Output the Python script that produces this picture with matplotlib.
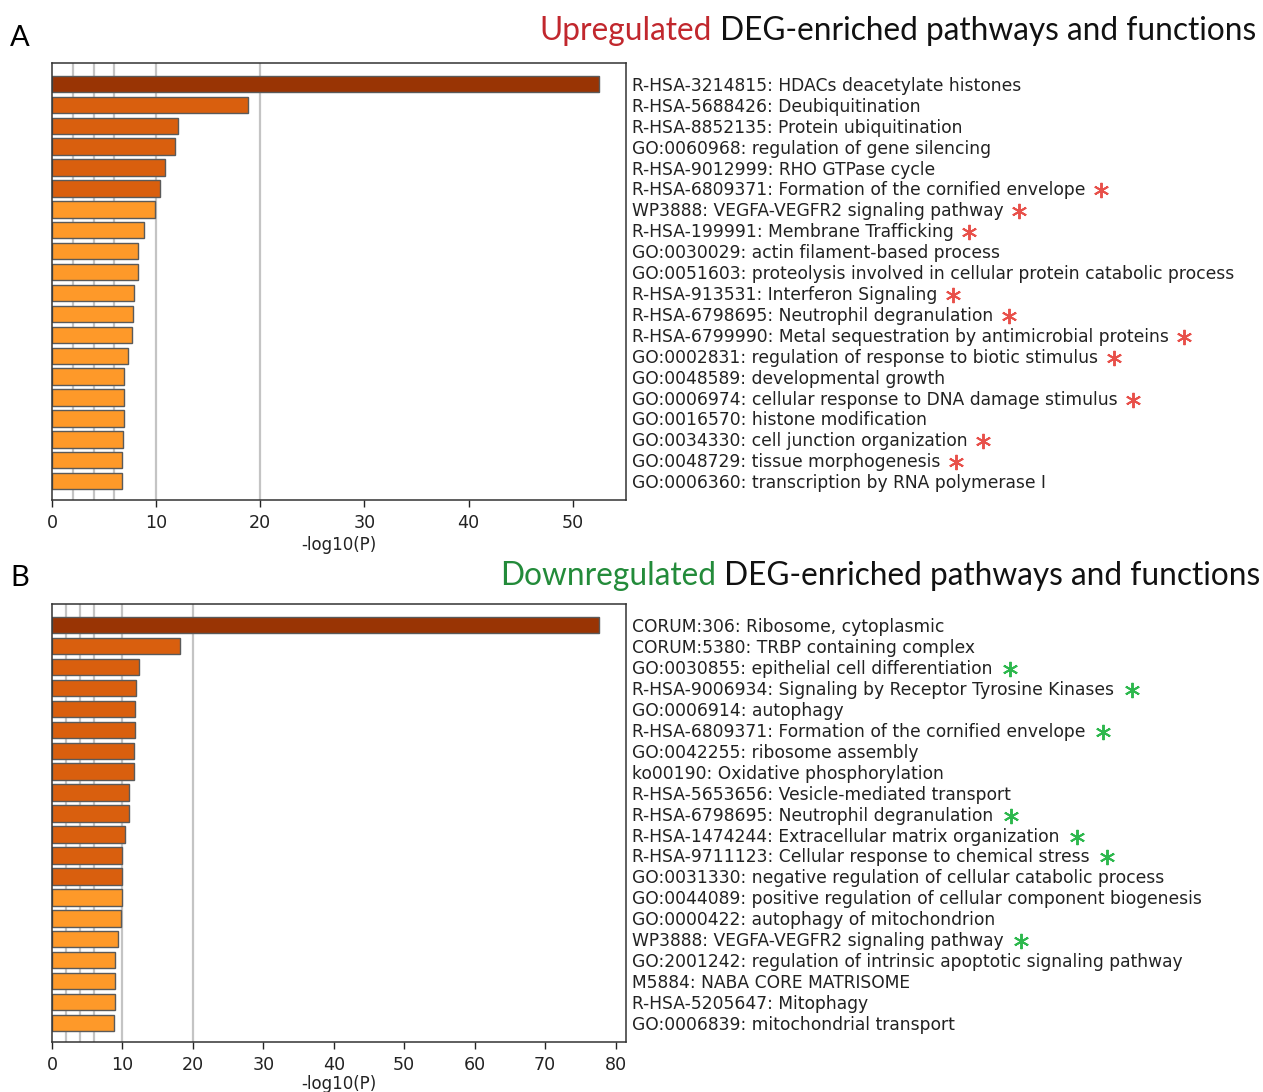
import matplotlib.pyplot as plt
import numpy as np

# -log10(P) of the top enriched terms, listed top to bottom
up_terms = [
    "R-HSA-3214815: HDACs deacetylate histones",
    "R-HSA-5688426: Deubiquitination",
    "R-HSA-8852135: Protein ubiquitination",
    "GO:0060968: regulation of gene silencing",
    "R-HSA-9012999: RHO GTPase cycle",
    "R-HSA-6809371: Formation of the cornified envelope",
    "WP3888: VEGFA-VEGFR2 signaling pathway",
    "R-HSA-199991: Membrane Trafficking",
    "GO:0030029: actin filament-based process",
    "GO:0051603: proteolysis involved in cellular protein catabolic process",
    "R-HSA-913531: Interferon Signaling",
    "R-HSA-6798695: Neutrophil degranulation",
    "R-HSA-6799990: Metal sequestration by antimicrobial proteins",
    "GO:0002831: regulation of response to biotic stimulus",
    "GO:0048589: developmental growth",
    "GO:0006974: cellular response to DNA damage stimulus",
    "GO:0016570: histone modification",
    "GO:0034330: cell junction organization",
    "GO:0048729: tissue morphogenesis",
    "GO:0006360: transcription by RNA polymerase I",
]
up_logp = [52.5, 18.8, 12.1, 11.8, 10.9, 10.35, 9.9, 8.8, 8.3, 8.24,
           7.9, 7.75, 7.66, 7.28, 6.96, 6.96, 6.93, 6.83, 6.7, 6.7]
up_level = [2, 1, 1, 1, 1, 1, 0, 0, 0, 0, 0, 0, 0, 0, 0, 0, 0, 0, 0, 0]
up_star = [0, 0, 0, 0, 0, 1, 1, 1, 0, 0, 1, 1, 1, 1, 0, 1, 0, 1, 1, 0]

down_terms = [
    "CORUM:306: Ribosome, cytoplasmic",
    "CORUM:5380: TRBP containing complex",
    "GO:0030855: epithelial cell differentiation",
    "R-HSA-9006934: Signaling by Receptor Tyrosine Kinases",
    "GO:0006914: autophagy",
    "R-HSA-6809371: Formation of the cornified envelope",
    "GO:0042255: ribosome assembly",
    "ko00190: Oxidative phosphorylation",
    "R-HSA-5653656: Vesicle-mediated transport",
    "R-HSA-6798695: Neutrophil degranulation",
    "R-HSA-1474244: Extracellular matrix organization",
    "R-HSA-9711123: Cellular response to chemical stress",
    "GO:0031330: negative regulation of cellular catabolic process",
    "GO:0044089: positive regulation of cellular component biogenesis",
    "GO:0000422: autophagy of mitochondrion",
    "WP3888: VEGFA-VEGFR2 signaling pathway",
    "GO:2001242: regulation of intrinsic apoptotic signaling pathway",
    "M5884: NABA CORE MATRISOME",
    "R-HSA-5205647: Mitophagy",
    "GO:0006839: mitochondrial transport",
]
down_logp = [77.6, 18.1, 12.3, 11.9, 11.8, 11.8, 11.6, 11.6, 10.9, 10.9,
             10.35, 10.0, 10.0, 10.0, 9.8, 9.3, 9.0, 9.0, 9.0, 8.8]
down_level = [2, 1, 1, 1, 1, 1, 1, 1, 1, 1, 1, 1, 1, 0, 0, 0, 0, 0, 0, 0]
down_star = [0, 0, 1, 1, 0, 1, 0, 0, 0, 1, 1, 1, 0, 0, 0, 1, 0, 0, 0, 0]

bar_colors = ["#fe9929", "#d95f0e", "#993404"]
grid_x = [2, 4, 6, 10, 20]

W, H = 1263, 1092
fig = plt.figure(figsize=(W / 100, H / 100), dpi=100)


def draw_panel(rect, terms, logp, level, star, star_color, star_gap, xpad):
    ax = fig.add_axes(rect)
    n = len(terms)
    ypos = np.arange(n)
    for g in grid_x:
        ax.axvline(g, color="#c4c4c4", lw=1.6, zorder=0)
    ax.barh(ypos, logp, height=0.78, color=[bar_colors[l] for l in level],
            edgecolor="#5a5a5a", linewidth=1.0, zorder=2)
    ax.set_xlim(0, max(logp) * 1.05)
    ax.set_ylim(n - 0.1, -1.0)
    ax.yaxis.tick_right()
    ax.set_yticks(ypos)
    ax.set_yticklabels(terms, fontsize=12.3, color="#222222")
    ax.tick_params(axis="y", length=0, pad=4)
    ax.tick_params(axis="x", labelsize=12.6, length=5, width=1, pad=5,
                   colors="#222222")
    ax.set_xlabel("-log10(P)", fontsize=12, color="#222222", labelpad=xpad)
    for s in ax.spines.values():
        s.set_color("#333333")
        s.set_linewidth(1.1)

    # asterisks after the flagged term names
    fig.canvas.draw()
    r = fig.canvas.get_renderer()
    inv = ax.transAxes.inverted()
    for lab, flag in zip(ax.get_yticklabels(), star):
        if not flag:
            continue
        bb = lab.get_window_extent(r)
        x, y = inv.transform((bb.x1 + star_gap, (bb.y0 + bb.y1) / 2))
        ax.plot(x, y, marker=(6, 2, 0), markersize=11, mew=1.4,
                color=star_color, transform=ax.transAxes, clip_on=False)
    return ax


def draw_title(y, word, word_color, right):
    t = fig.text(right, y, " DEG-enriched pathways and functions",
                 ha="right", va="center", fontsize=22.8, family="Lato",
                 color="#111111")
    fig.canvas.draw()
    bb = t.get_window_extent(fig.canvas.get_renderer())
    fig.text(bb.x0 / W, y, word, ha="right", va="center", fontsize=22.8,
             family="Lato", color=word_color)


draw_panel([52 / W, 1 - 500 / H, 574 / W, 437 / H],
           up_terms, up_logp, up_level, up_star, "#e8504a", 16, 3)
draw_panel([52 / W, 1 - 1042 / H, 574 / W, 438 / H],
           down_terms, down_logp, down_level, down_star, "#2db84d", 18, 0.5)

draw_title(1 - 31 / H, "Upregulated", "#c1272d", 1256 / W)
draw_title(1 - 576 / H, "Downregulated", "#238b3a", 1260 / W)

fig.text(10 / W, 1 - 38 / H, "A", fontsize=21, family="Lato", va="center")
fig.text(10 / W, 1 - 578 / H, "B", fontsize=21, family="Lato", va="center")

plt.savefig("out.png", dpi=100)
